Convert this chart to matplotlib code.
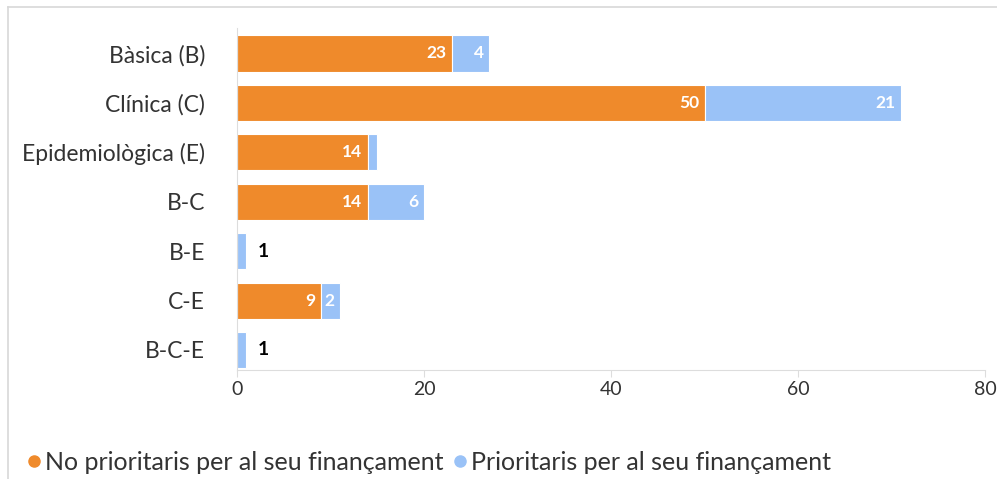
import matplotlib
matplotlib.use('Agg')
import matplotlib.pyplot as plt
from matplotlib.lines import Line2D
import numpy as np

plt.rcParams['font.family'] = ['Lato', 'DejaVu Sans']

categories = ['Bàsica (B)', 'Clínica (C)', 'Epidemiològica (E)', 'B-C', 'B-E', 'C-E', 'B-C-E']
no_prioritaris = [23, 50, 14, 14, 0, 9, 0]
prioritaris = [4, 21, 1, 6, 1, 2, 1]
series_names = ['No prioritaris per al seu finançament', 'Prioritaris per al seu finançament']

ORANGE = '#EF8A2B'
BLUE = '#9AC2F7'
TEXT = '#333333'
LIGHT = '#DDDDDD'

fig = plt.figure(figsize=(9.97, 4.79), dpi=100)
ax = fig.add_axes([237 / 997, 1 - 370 / 479, (985 - 237) / 997, (370 - 28) / 479])

y = np.arange(len(categories))
h = 0.73
ax.barh(y, no_prioritaris, height=h, color=ORANGE, edgecolor='white', linewidth=0.8)
ax.barh(y, prioritaris, height=h, left=no_prioritaris, color=BLUE, edgecolor='white', linewidth=0.8)

# value labels: white inside the segment, black outside when the bar is only blue
for i in range(len(categories)):
    a, b = no_prioritaris[i], prioritaris[i]
    if a > 0:
        ax.annotate(str(a), (a, i), xytext=(-4, 0), textcoords='offset points',
                    ha='right', va='center', color='white', fontsize=12.5, fontweight='bold')
    if a == 0:
        ax.annotate(str(b), (a + b, i), xytext=(8, 0), textcoords='offset points',
                    ha='left', va='center', color='black', fontsize=14, fontweight='bold')
    elif b >= 2:
        ax.annotate(str(b), (a + b, i), xytext=(-4, 0), textcoords='offset points',
                    ha='right', va='center', color='white', fontsize=12.5, fontweight='bold')

ax.set_xlim(0, 80)
ax.set_ylim(6.405, -0.516)
ax.set_xticks([0, 20, 40, 60, 80])
ax.set_yticks(y)
ax.set_yticklabels(categories)
ax.tick_params(axis='y', length=0, pad=23, labelsize=16.5, labelcolor=TEXT)
ax.tick_params(axis='x', length=5, color=LIGHT, pad=3, labelsize=14, labelcolor=TEXT)

for s in ['top', 'right']:
    ax.spines[s].set_visible(False)
ax.spines['bottom'].set_color(LIGHT)
ax.spines['left'].set_color(LIGHT)
ax.spines['left'].set_linewidth(0.8)
ax.spines['bottom'].set_linewidth(0.8)

# outer frame (top and left edges)
fig.add_artist(Line2D([8 / 997, 1], [1 - 7 / 479, 1 - 7 / 479], color='#D8D8D8', lw=1.2))
fig.add_artist(Line2D([8 / 997, 8 / 997], [0, 1 - 7 / 479], color='#D8D8D8', lw=1.2))

handles = [Line2D([], [], marker='o', ls='', color=ORANGE, markersize=8),
           Line2D([], [], marker='o', ls='', color=BLUE, markersize=8)]
fig.legend(handles, series_names, loc='center left', bbox_to_anchor=(10 / 997, 1 - 462 / 479),
           ncol=2, frameon=False, fontsize=18, handletextpad=0.0, columnspacing=0.2,
           handlelength=0.9, borderpad=0, labelcolor=TEXT)

fig.savefig('out.png', dpi=100)
